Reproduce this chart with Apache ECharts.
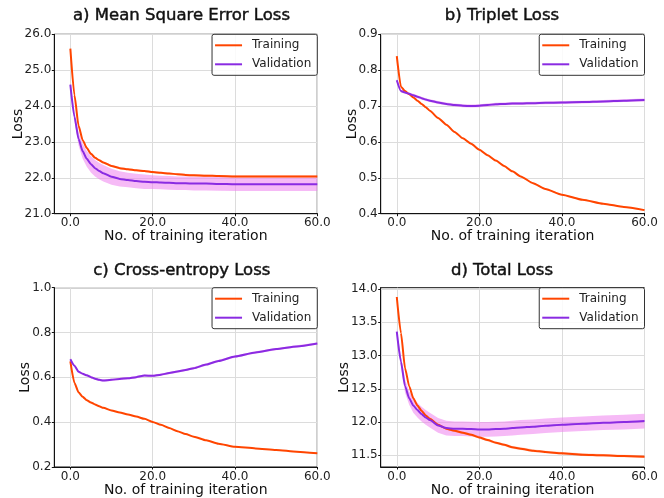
<!DOCTYPE html>
<html><head><meta charset="utf-8">
<script src="https://cdn.jsdelivr.net/npm/echarts@6/dist/echarts.min.js"></script>
<style>html,body{margin:0;padding:0;background:#fff}#c{width:664px;height:498px}</style>
</head><body><div id="c"></div>
<script>
// ---- data ----
const iterations = [0,1,2,3,4,5,6,7,8,10,12,14,16,18,20,22,24,26,28,30,33,36,40,45,50,55,60];
const xTickValues = [0,20,40,60];

const mseTrain = [25.60,24.30,23.45,23.05,22.83,22.67,22.56,22.49,22.43,22.33,22.27,22.24,22.21,22.19,22.16,22.14,22.12,22.10,22.08,22.07,22.06,22.05,22.04,22.04,22.04,22.04,22.04];
const mseTrainStd = [0.02,0.03,0.03,0.03,0.03,0.03,0.03,0.03,0.03,0.03,0.03,0.03,0.03,0.03,0.03,0.03,0.03,0.03,0.03,0.03,0.03,0.03,0.03,0.03,0.03,0.03,0.03];
const mseVal = [24.60,23.70,23.08,22.74,22.53,22.38,22.27,22.19,22.13,22.03,21.97,21.94,21.91,21.89,21.88,21.87,21.86,21.85,21.85,21.84,21.84,21.83,21.82,21.82,21.82,21.82,21.82];
const mseValStd = [0.03,0.12,0.18,0.21,0.22,0.23,0.23,0.23,0.23,0.22,0.21,0.20,0.20,0.20,0.19,0.19,0.19,0.19,0.19,0.19,0.19,0.19,0.19,0.19,0.19,0.19,0.19];
const mseTicks = [21,22,23,24,25,26];

const tripTrain = [0.839,0.754,0.742,0.733,0.724,0.715,0.706,0.697,0.687,0.667,0.648,0.628,0.610,0.595,0.578,0.563,0.548,0.533,0.518,0.504,0.485,0.469,0.453,0.439,0.428,0.419,0.410];
const tripTrainStd = [0.002,0.002,0.002,0.002,0.002,0.002,0.002,0.002,0.002,0.002,0.002,0.002,0.002,0.002,0.002,0.002,0.002,0.002,0.002,0.002,0.002,0.002,0.002,0.002,0.002,0.002,0.002];
const tripVal = [0.772,0.742,0.738,0.734,0.730,0.726,0.722,0.718,0.715,0.710,0.706,0.703,0.701,0.700,0.701,0.703,0.705,0.706,0.707,0.707,0.708,0.709,0.710,0.711,0.713,0.715,0.717];
const tripValStd = [0.004,0.004,0.004,0.004,0.004,0.004,0.004,0.004,0.004,0.004,0.004,0.004,0.004,0.004,0.004,0.004,0.004,0.004,0.004,0.004,0.004,0.004,0.004,0.004,0.004,0.004,0.004];
const tripTicks = [0.4,0.5,0.6,0.7,0.8,0.9];

const ceTrain = [0.671,0.575,0.533,0.513,0.498,0.488,0.479,0.471,0.464,0.452,0.443,0.434,0.425,0.415,0.401,0.388,0.374,0.360,0.347,0.335,0.319,0.304,0.290,0.283,0.276,0.268,0.261];
const ceTrainStd = [0.002,0.002,0.002,0.002,0.002,0.002,0.002,0.002,0.002,0.002,0.002,0.002,0.002,0.002,0.002,0.002,0.002,0.002,0.002,0.002,0.002,0.002,0.002,0.002,0.002,0.002,0.002];
const ceVal = [0.681,0.652,0.625,0.616,0.609,0.601,0.594,0.589,0.586,0.589,0.593,0.596,0.601,0.608,0.607,0.612,0.619,0.626,0.633,0.641,0.657,0.673,0.693,0.711,0.726,0.738,0.751];
const ceValStd = [0.005,0.005,0.005,0.005,0.005,0.005,0.005,0.005,0.005,0.005,0.005,0.005,0.005,0.005,0.005,0.005,0.005,0.005,0.005,0.005,0.005,0.005,0.005,0.005,0.005,0.005,0.005];
const ceTicks = [0.2,0.4,0.6,0.8,1.0];

const totTrain = [13.88,13.34,12.81,12.54,12.36,12.25,12.17,12.10,12.05,11.96,11.90,11.87,11.84,11.81,11.77,11.73,11.69,11.66,11.62,11.60,11.57,11.55,11.53,11.51,11.50,11.49,11.48];
const totTrainStd = [0.02,0.02,0.02,0.02,0.02,0.02,0.02,0.02,0.02,0.02,0.02,0.02,0.02,0.02,0.02,0.02,0.02,0.02,0.02,0.02,0.02,0.02,0.02,0.02,0.02,0.02,0.02];
const totVal = [13.36,12.91,12.54,12.36,12.25,12.18,12.12,12.07,12.03,11.95,11.91,11.90,11.90,11.895,11.89,11.89,11.895,11.90,11.91,11.92,11.93,11.945,11.96,11.975,11.99,12.00,12.015];
const totValStd = [0.05,0.08,0.10,0.10,0.11,0.11,0.11,0.11,0.11,0.11,0.11,0.11,0.11,0.11,0.11,0.11,0.11,0.11,0.11,0.11,0.11,0.11,0.11,0.11,0.11,0.11,0.11];
const totTicks = [11.5,12.0,12.5,13.0,13.5,14.0];

const titles = ['a) Mean Square Error Loss','b) Triplet Loss','c) Cross-entropy Loss','d) Total Loss'];
const seriesNames = ['Training','Validation'];
const xAxisTitle = 'No. of training iteration';
const yAxisTitle = 'Loss';

// ---- layout / styles ----
const panels = [
  {train: mseTrain, trStd: mseTrainStd, val: mseVal, vaStd: mseValStd, ticks: mseTicks, yMin: 21, yMax: 26},
  {train: tripTrain, trStd: tripTrainStd, val: tripVal, vaStd: tripValStd, ticks: tripTicks, yMin: 0.4, yMax: 0.9},
  {train: ceTrain, trStd: ceTrainStd, val: ceVal, vaStd: ceValStd, ticks: ceTicks, yMin: 0.2, yMax: 1.0},
  {train: totTrain, trStd: totTrainStd, val: totVal, vaStd: totValStd, ticks: totTicks, yMin: 11.325, yMax: 14.02}
];
const layout = [
  {left: 54.3, top: 34.3, w: 263, h: 179.4, titleX: 181.5, titleY: 15.5, nameGap: 29},
  {left: 380.7, top: 34.3, w: 263.8, h: 179.4, titleX: 502, titleY: 15.7, nameGap: 21.5},
  {left: 54.3, top: 287.7, w: 263, h: 179.6, titleX: 181.8, titleY: 270.7, nameGap: 21.5},
  {left: 380.7, top: 287.7, w: 263.8, h: 179.6, titleX: 502, titleY: 270.7, nameGap: 29}
];
const TRAIN_COLOR = '#FF4500';
const VAL_COLOR = '#8A2BE2';
const TRAIN_BAND = 'rgba(255,69,0,0.22)';
const VAL_BAND = 'rgba(238,130,238,0.55)';
const FONT = 'DejaVu Sans';
const linePath = 'path://M0,0L27,0L27,2L0,2Z';

const option = {
  animation: false,
  backgroundColor: '#fff',
  textStyle: {fontFamily: FONT},
  title: [], grid: [], xAxis: [], yAxis: [], legend: [], series: []
};

panels.forEach((p, i) => {
  const g = layout[i];
  option.grid.push({left: g.left, top: g.top, width: g.w, height: g.h, show: true,
    borderColor: '#111', borderWidth: 1, backgroundColor: 'transparent'});
  option.title.push({text: titles[i], left: g.titleX, top: g.titleY, textAlign: 'center',
    textVerticalAlign: 'middle', padding: 0,
    textStyle: {fontFamily: FONT, fontSize: 16.5, fontWeight: 'normal', color: '#111',
      textBorderColor: '#111', textBorderWidth: 0.45}});
  option.xAxis.push({
    type: 'value', gridIndex: i, min: -3.9, max: 60,
    name: xAxisTitle, nameLocation: 'middle', nameGap: 16, nameMoveOverlap: false,
    nameTextStyle: {fontFamily: FONT, fontSize: 14, color: '#111'},
    axisLine: {show: true, onZero: false, lineStyle: {color: '#111'}},
    axisTick: {show: true, inside: false, length: 2.5, customValues: xTickValues, lineStyle: {color: '#111'}},
    axisLabel: {customValues: xTickValues, formatter: v => Number(v).toFixed(1), fontFamily: FONT, fontSize: 12, color: '#222', margin: 3.5},
    splitLine: {show: true, lineStyle: {color: '#dcdcdc', width: 1}}
  });
  option.yAxis.push({
    type: 'value', gridIndex: i, min: p.yMin, max: p.yMax,
    name: yAxisTitle, nameLocation: 'middle', nameGap: g.nameGap, nameMoveOverlap: false,
    nameTextStyle: {fontFamily: FONT, fontSize: 14, color: '#111'},
    axisLine: {show: true, onZero: false, lineStyle: {color: '#111'}},
    axisTick: {show: true, inside: false, length: 2.5, customValues: p.ticks, lineStyle: {color: '#111'}},
    axisLabel: {customValues: p.ticks, formatter: v => Number(v).toFixed(1), fontFamily: FONT, fontSize: 12, color: '#222', margin: 3},
    splitLine: {show: true, lineStyle: {color: '#dcdcdc', width: 1}}
  });
  option.legend.push({
    data: seriesNames.map(n => ({name: n, icon: linePath})),
    orient: 'vertical', right: 664 - (g.left + g.w), top: g.top,
    itemWidth: 27, itemHeight: 14, itemGap: 5,
    padding: [4, 6, 4, 3], borderColor: '#333', borderWidth: 1, borderRadius: 2,
    backgroundColor: 'rgba(255,255,255,0.85)', selectedMode: false, z: 10,
    textStyle: {fontFamily: FONT, fontSize: 12, color: '#222', padding: [0, 0, 0, 5], lineHeight: 14}
  });

  const band = (mean, std, color) => {
    const rows = iterations.map((x, k) => [x, mean[k] - std[k], mean[k] + std[k]]);
    option.series.push({
      type: 'custom', xAxisIndex: i, yAxisIndex: i, silent: true, z: 1,
      data: rows, encode: {x: 0, y: [1, 2]},
      renderItem: (params, api) => {
        if (params.dataIndex !== 0) return null;
        const upper = rows.map(r => api.coord([r[0], r[2]]));
        const lower = rows.map(r => api.coord([r[0], r[1]])).reverse();
        return {type: 'polygon', shape: {points: upper.concat(lower)},
          style: {fill: color, stroke: null}};
      }
    });
  };
  band(p.val, p.vaStd, VAL_BAND);
  band(p.train, p.trStd, TRAIN_BAND);
  option.series.push({
    type: 'line', name: seriesNames[0], xAxisIndex: i, yAxisIndex: i,
    data: iterations.map((x, k) => [x, p.train[k]]), symbol: 'none', smooth: 0.2, smoothMonotone: 'x',
    color: TRAIN_COLOR, lineStyle: {color: TRAIN_COLOR, width: 2}, z: 3
  });
  option.series.push({
    type: 'line', name: seriesNames[1], xAxisIndex: i, yAxisIndex: i,
    data: iterations.map((x, k) => [x, p.val[k]]), symbol: 'none', smooth: 0.2, smoothMonotone: 'x',
    color: VAL_COLOR, lineStyle: {color: VAL_COLOR, width: 2}, z: 3
  });
});

const chart = echarts.init(document.getElementById('c'), null, {renderer: 'canvas'});
chart.setOption(option);
</script>
</body></html>
